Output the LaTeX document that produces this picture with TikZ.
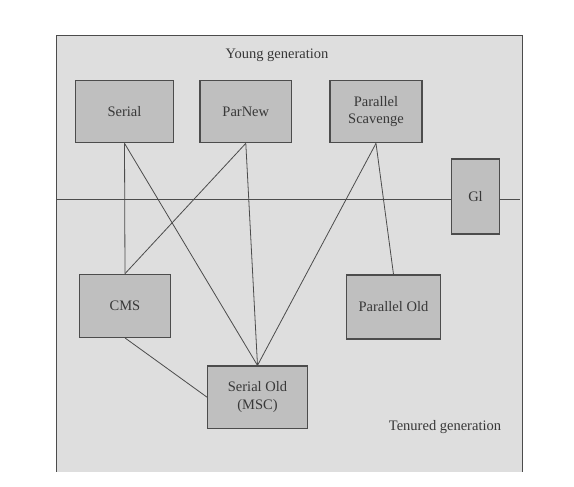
\documentclass[tikz,border=0pt]{standalone}
\usepackage{fontspec}
\setmainfont{Liberation Serif}
\definecolor{bggray}{gray}{0.87}
\definecolor{boxgray}{gray}{0.75}
\definecolor{inkgray}{gray}{0.3}
\definecolor{textgray}{gray}{0.22}

\begin{document}
\begin{tikzpicture}[x=1pt, y=-1pt,
	gcbox/.style={draw=inkgray, line width=1.3pt, fill=boxgray, text=textgray,
		font=\fontsize{14.5}{17.5}\selectfont, align=center, inner sep=0pt},
	genlabel/.style={text=textgray, font=\fontsize{14.5}{17.5}\selectfont},
	link/.style={draw=inkgray, line width=0.8pt}]
	\useasboundingbox (0,0) rectangle (574,487);
	% heap area
	\fill [bggray] (56.7,35) rectangle (522.7,471.7);
	\draw [inkgray, line width=0.8pt] (56.7,471.7) -- (56.7,35) -- (522.7,35) -- (522.7,471.7);
	\node [genlabel] (young) at (277,55) {Young generation};
	\node [genlabel] (tenured) at (445,427) {Tenured generation};
	% border between the generations
	\coordinate (divL) at (56.7,199);
	\coordinate (divR) at (520,199);
	\draw [link] (divL) -- (divR);
	% collectors
	\node [gcbox, minimum width=97.6, minimum height=62] (Serial) at (124.5,111.7) {Serial};
	\node [gcbox, minimum width=91.7, minimum height=62] (ParNew) at (245.8,111.7) {ParNew};
	\node [gcbox, minimum width=92, minimum height=62] (Scavenge) at (376,111.7) {Parallel\\Scavenge};
	\node [gcbox, minimum width=47.6, minimum height=75] (GOne) at (475.5,196.5) {Gl};
	\node [gcbox, minimum width=91.4, minimum height=63] (CMS) at (125,305.8) {CMS};
	\node [gcbox, minimum width=93.6, minimum height=64] (ParOld) at (393.5,307) {Parallel Old};
	\node [gcbox, minimum width=99.6, minimum height=62.3] (SerialOld) at (257.5,397.2) {Serial Old\\(MSC)};
	% combinations
	\draw [link] (Serial.south) -- (CMS.north);
	\draw [link] (Serial.south) -- (SerialOld.north);
	\draw [link] (ParNew.south) -- (CMS.north);
	\draw [link] (ParNew.south) -- (SerialOld.north);
	\draw [link] (Scavenge.south) -- (SerialOld.north);
	\draw [link] (Scavenge.south) -- (ParOld.north);
	\draw [link] (CMS.south) -- (SerialOld.west);
\end{tikzpicture}
\end{document}
